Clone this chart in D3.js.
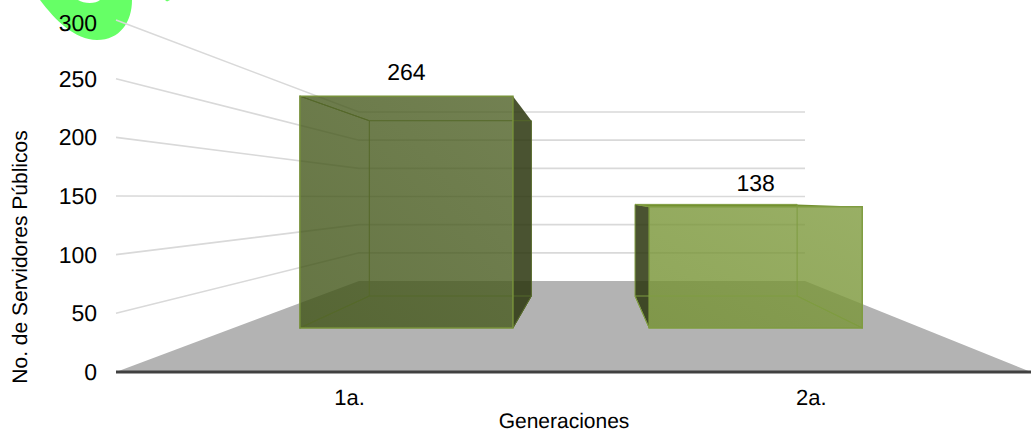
<!DOCTYPE html>
<html lang="es">
<head>
<meta charset="utf-8">
<style>
  html, body { margin: 0; padding: 0; background: #fff; }
  svg { display: block; }
  text { font-family: "Liberation Sans", Arial, sans-serif; fill: #000; text-rendering: geometricPrecision; }
</style>
<script src="https://cdn.jsdelivr.net/npm/d3@7/dist/d3.min.js"></script>
</head>
<body>
<svg id="chart" width="1031" height="434"></svg>
<script>
const categories = ["1a.", "2a."];
const servidores = [264, 138];
const tickValues = [0, 50, 100, 150, 200, 250, 300];
const barFillsDark = ["#3f5315", "#739030"];
const barFillsLight = ["#4f6126", "#7f9b3e"];
const barEdges = ["#77913a", "#7f9c40"];
const barInnerEdges = ["#55682a", "#7f9c40"];
const barSide = "#2a350d";

const svg = d3.select("#chart");

// Depth runs from 0 (front of the box) to 1 (back wall).
const yFront = d3.scaleLinear().domain([0, 300]).range([372, 20]);
const yBack = d3.scaleLinear().domain([0, 300]).range([281, 112]);
const xLeft = d3.scaleLinear().domain([0, 1]).range([116, 359]);
const xRight = d3.scaleLinear().domain([0, 1]).range([1031, 805]);
const band = d3.scaleBand().domain(categories).range([0.01, 1]).paddingInner(0.39).paddingOuter(0.17);

// Projects an across/value/depth position onto the page.
function project(u, value, depth) {
  const l = xLeft(depth), r = xRight(depth);
  return [l + (r - l) * u, yFront(value) + (yBack(value) - yFront(value)) * depth];
}
const polygon = pts => "M" + pts.map(p => p.join(",")).join("L") + "Z";

// Soft diagonal shading for each bar's front face.
const defs = svg.append("defs");
categories.forEach((c, i) => {
  const grad = defs.append("linearGradient").attr("id", "front" + i)
    .attr("x1", 0).attr("y1", 1).attr("x2", 1).attr("y2", 0);
  grad.append("stop").attr("offset", 0).attr("stop-color", barFillsDark[i]);
  grad.append("stop").attr("offset", 1).attr("stop-color", barFillsLight[i]);
});

// Green brush mark behind the top tick label.
svg.append("path")
  .attr("fill", "#66ff66")
  .attr("d", "M40,0 C55,20 75,40 97,40 C120,40 132,22 132,0 L100,0 C96,4 84,4 78,0 Z M165,0 L170,0 L167,1.5 Z");

// Floor.
svg.append("path").attr("fill", "#b3b3b3")
  .attr("d", polygon([project(0, 0, 0), project(0, 0, 1), project(1, 0, 1), project(1, 0, 0)]));

// Gridlines along the left wall and the back wall.
const grid = svg.append("g").attr("fill", "none").attr("stroke", "#d9d9d9").attr("stroke-width", 1.6);
tickValues.filter(v => v > 0).forEach(v => {
  grid.append("polyline")
    .attr("points", [project(0, v, 0), project(0, v, 1), project(1, v, 1)].map(p => p.join(",")).join(" "));
});

// Baseline along the front of the floor.
svg.append("line")
  .attr("x1", 116).attr("x2", 1031)
  .attr("y1", yFront(0)).attr("y2", yFront(0))
  .attr("stroke", "#404040").attr("stroke-width", 3);

// Translucent 3D bars.
const depthNear = 0.484, depthFar = 0.835;

categories.forEach((c, i) => {
  const v = servidores[i];
  const u0 = band(c), u1 = u0 + band.bandwidth();
  const fbl = project(u0, 0, depthNear), fbr = project(u1, 0, depthNear);
  const ftl = project(u0, v, depthNear), ftr = project(u1, v, depthNear);
  const bbl = project(u0, 0, depthFar), bbr = project(u1, 0, depthFar);
  const btl = project(u0, v, depthFar), btr = project(u1, v, depthFar);
  const g = svg.append("g");

  // Whichever side wall faces the viewer.
  const side = i === 0 ? [ftr, btr, bbr, fbr] : [ftl, btl, bbl, fbl];
  g.append("path").attr("d", polygon(side))
    .attr("fill", barSide).attr("fill-opacity", 0.85);

  // The top only shows once the bar is short enough to see past its front edge.
  if (btl[1] < ftl[1]) {
    g.append("path").attr("d", polygon([ftl, btl, btr, ftr]))
      .attr("fill", barFillsDark[i]);
  }
  g.append("path").attr("d", polygon([ftl, ftr, fbr, fbl]))
    .attr("fill", "url(#front" + i + ")").attr("fill-opacity", 0.8);

  // Hidden edges showing through the front face.
  g.append("path")
    .attr("d", polygon([btl, btr, bbr, bbl]) + polygon([ftl, btl]) + polygon([fbl, bbl]) + polygon([fbr, bbr]))
    .attr("fill", "none").attr("stroke", barInnerEdges[i]).attr("stroke-width", 1);
  g.append("path").attr("d", polygon([ftl, ftr, fbr, fbl]))
    .attr("fill", "none").attr("stroke", barEdges[i]).attr("stroke-width", 1.5);

  // Value label above the bar.
  svg.append("text")
    .attr("x", (ftl[0] + ftr[0]) / 2)
    .attr("y", ftl[1])
    .attr("dy", -16)
    .attr("text-anchor", "middle")
    .attr("font-size", 23)
    .text(v);
});

// Value axis on the front edge.
const axis = svg.append("g").attr("transform", "translate(116,0)")
  .call(d3.axisLeft(yFront).tickValues(tickValues).tickSize(0).tickPadding(19));
axis.select(".domain").remove();
axis.selectAll("text").attr("font-size", 23)
  .style("font-family", '"Liberation Sans", Arial, sans-serif').attr("fill", "#000");
axis.selectAll(".tick text").filter(d => d === 300).attr("dy", "0.45em");

// Category labels under the baseline.
const xCat = d3.scaleBand().domain(categories).range([118.75, 1042.25]);
const catAxis = svg.append("g").attr("transform", "translate(0,372)")
  .call(d3.axisBottom(xCat).tickSize(0).tickPadding(17));
catAxis.select(".domain").remove();
catAxis.selectAll("text").attr("font-size", 22)
  .style("font-family", '"Liberation Sans", Arial, sans-serif').attr("fill", "#000");

// Axis titles.
svg.append("text").attr("x", 564).attr("y", 428).attr("text-anchor", "middle")
  .attr("font-size", 21).text("Generaciones");
svg.append("text").attr("transform", "translate(27,257) rotate(-90)").attr("text-anchor", "middle")
  .attr("font-size", 21).text("No. de Servidores Públicos");
</script>
</body>
</html>
